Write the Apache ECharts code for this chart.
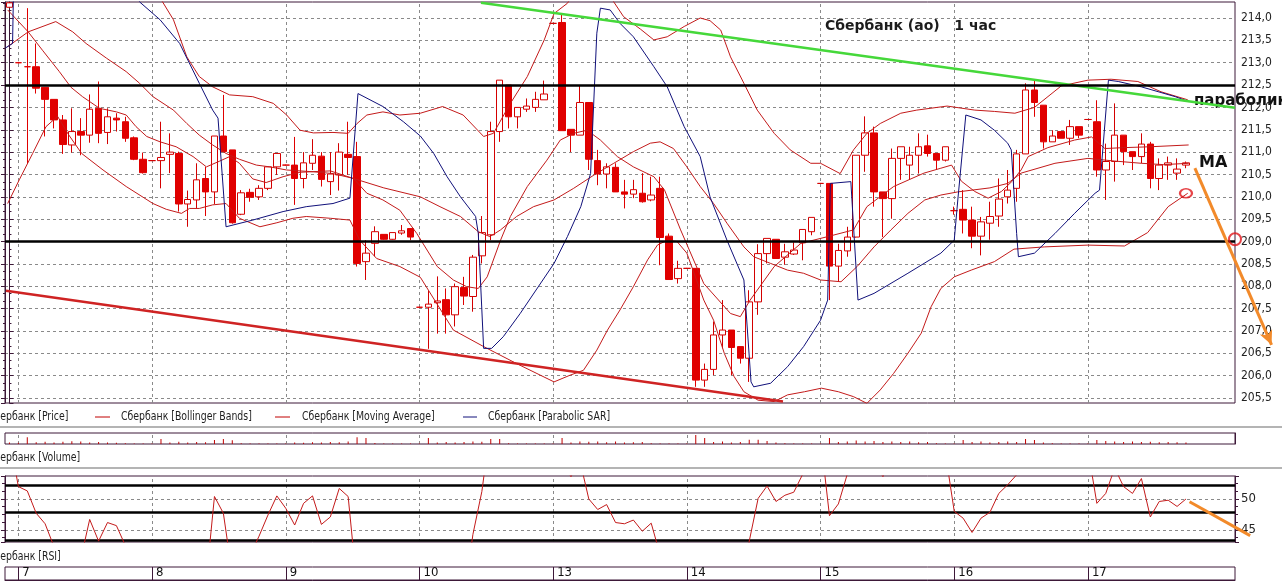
<!DOCTYPE html>
<html><head><meta charset="utf-8">
<script src="https://cdn.jsdelivr.net/npm/echarts@6/dist/echarts.min.js"></script>
<style>html,body{margin:0;padding:0;background:#fff;overflow:hidden}#c{width:1282px;height:583px}</style>
</head><body><div id="c"></div>
<script>
// ---------- data ----------
const slotCount = 138;
const dayStarts = [1,16,31,46,61,76,91,106,121];
const dayLabels = ['7','8','9','10','13','14','15','16','17'];

const opens = [214.24,213.0,212.91,212.91,212.45,212.18,211.72,211.16,211.46,211.38,
 211.98,211.44,211.76,211.68,211.32,210.84,210.81,210.81,210.95,210.97,
 209.84,209.93,210.41,210.11,211.36,211.05,209.61,210.1,210.0,210.19,
 210.67,210.71,210.71,210.41,210.75,210.91,210.34,210.49,210.95,210.9,
 208.55,208.96,209.16,209.05,209.19,209.29,207.53,207.53,207.63,207.7,
 207.36,207.97,207.77,208.68,209.15,211.46,212.5,211.79,211.96,212.0,
 212.17,213.88,213.9,211.51,211.38,212.11,210.81,210.51,210.66,210.11,
 210.06,210.08,209.93,210.19,209.12,208.17,208.4,208.4,205.9,206.14,
 206.91,207.02,206.65,206.39,207.65,208.73,209.05,208.65,208.72,208.97,
 209.22,210.3,210.3,208.45,208.79,209.1,210.93,211.43,210.11,209.96,
 210.86,210.71,210.93,211.14,210.97,210.82,209.69,209.72,209.48,209.12,
 209.41,209.57,210.0,210.19,210.96,212.39,212.05,211.23,211.46,211.31,
 211.57,211.73,211.68,210.6,210.79,211.38,211.01,210.9,211.18,210.41,
 210.71,210.53,210.71];
const closes = [214.34,213.0,212.91,212.43,212.18,211.72,211.17,211.46,211.38,211.96,
 211.42,211.79,211.72,211.31,210.84,210.54,210.81,210.88,211.0,209.84,
 209.94,210.38,210.11,211.36,211.01,209.42,210.09,209.99,210.19,210.67,
 210.97,210.71,210.41,210.76,210.93,210.39,210.51,211.0,210.88,208.51,
 208.74,209.22,209.05,209.2,209.24,209.1,207.53,207.6,207.67,207.36,
 207.99,207.78,208.65,209.2,211.46,212.61,211.79,212.0,212.03,212.18,
 212.3,213.88,211.48,211.38,212.11,210.84,210.51,210.67,210.11,210.06,
 210.16,209.89,210.04,209.09,208.15,208.4,208.4,205.9,206.14,206.91,
 207.02,206.63,206.39,207.65,208.73,209.07,208.62,208.77,208.81,209.27,
 209.54,210.3,208.45,208.8,209.1,210.93,211.43,210.11,209.96,210.86,
 211.12,210.93,211.12,210.97,210.82,211.12,209.69,209.48,209.12,209.44,
 209.56,209.95,210.15,210.96,212.39,212.11,211.23,211.36,211.31,211.57,
 211.38,211.73,210.6,210.79,211.38,211.01,210.9,211.18,210.41,210.71,
 210.76,210.62,210.76];
const lows = [214.22,212.98,210.75,212.31,211.35,211.53,210.96,210.99,210.93,211.21,
 211.2,211.18,211.46,211.23,210.82,210.52,210.8,210.19,210.53,209.67,
 209.33,209.74,209.57,209.84,211.01,209.4,209.59,209.89,209.93,210.15,
 210.49,210.7,209.82,210.19,210.6,210.23,210.04,210.14,210.49,208.44,
 208.14,208.67,209.04,209.04,209.15,209.03,207.52,206.6,206.94,206.94,
 207.1,207.58,207.43,208.51,209.03,211.23,211.53,211.53,211.9,211.9,
 212.17,213.87,211.48,211.0,211.38,210.6,210.26,210.19,210.11,209.74,
 209.97,209.87,209.9,208.47,208.15,208.06,208.39,205.75,205.75,206.01,
 206.61,206.01,206.27,205.86,207.36,208.51,208.62,208.48,208.7,208.58,
 209.14,210.29,207.69,208.1,208.66,209.09,210.56,209.78,209.1,209.51,
 210.38,210.38,210.52,210.9,210.6,210.79,209.6,209.18,208.85,208.69,
 209.04,209.33,209.85,209.89,210.96,211.79,211.08,211.23,211.31,211.16,
 211.31,211.72,210.45,209.93,210.34,210.71,210.6,210.75,210.19,210.15,
 210.38,210.38,210.64];
const highs = [214.36,213.02,214.22,213.43,212.45,212.18,211.83,211.98,211.76,212.29,
 212.58,211.98,211.87,211.79,211.35,210.99,210.82,211.68,211.42,211.01,
 210.14,210.75,210.67,211.36,212.28,211.05,210.15,210.18,210.26,210.67,
 210.97,210.72,211.34,211.0,211.29,211.0,211.0,211.2,211.68,211.23,
 209.03,209.34,209.16,209.2,209.37,209.29,207.54,207.9,208.22,207.95,
 208.06,208.21,208.7,209.57,211.68,212.61,212.5,212.0,212.2,212.35,
 212.6,213.89,214.1,211.51,212.5,212.11,211.05,210.75,210.75,210.38,
 210.38,210.53,210.45,210.45,209.18,208.57,208.41,208.4,206.27,207.21,
 207.69,207.02,206.65,207.91,208.94,209.07,209.05,208.95,208.98,209.27,
 209.54,210.31,210.3,208.95,209.33,210.93,211.8,211.57,210.11,211.08,
 211.12,211.12,211.42,211.39,210.97,211.12,209.78,210.15,209.78,209.55,
 209.89,210.41,210.6,211.05,212.54,212.61,212.05,211.49,211.46,211.72,
 211.57,211.74,212.16,211.19,212.09,211.38,211.01,211.42,211.23,210.86,
 210.9,210.86,210.79];

const volumes = [1500,1200,6700,1800,2200,1500,2200,2800,2500,1500,
 2000,1500,1200,800,600,500,500,5000,1500,2200,
 1500,2000,1800,4000,5000,3800,800,600,500,500,
 500,500,1500,1200,1800,1500,2000,1800,2500,6700,
 6000,900,600,500,500,500,500,6000,1500,2000,
 1500,2000,2500,2200,5000,5000,800,600,500,500,
 500,500,6000,1500,2500,2200,2500,1800,2500,1500,
 1800,2000,800,600,500,500,500,9000,6000,2000,
 2500,1500,2000,4300,4300,3000,1500,800,600,500,
 500,500,6000,2000,2500,3500,2500,3000,2000,2500,
 2000,2500,1800,2000,800,600,500,4000,2000,2500,
 1500,2000,2500,2000,5000,4000,1500,800,600,500,
 500,500,4000,3000,2500,2000,2500,2000,2200,1800,
 2000,1800,1566];

const rsi = [60,52.0,51.3,47.7,46.0,42.3,39,38,40.3,46.7,
 43.2,46.2,45.7,42.5,39,37,36,38,39,35,
 36,37,35.7,50.4,47.7,37.8,39,40.9,44.0,47.4,
 50.5,48.5,45.8,49.3,50.5,45.9,47.1,51.7,50.4,35.7,
 37,39,38,39,40,38,33,35,36,34,
 37,34,44.3,51.2,62,68,62,63,63,64,
 65,70,56,53.6,56.2,50.0,48.3,49.1,46.2,46.0,
 46.6,44.8,46.1,41.0,36,37,37,28,31,36,
 37,34,33,43.2,50.1,52.1,49.6,50.6,51.1,54.0,
 57,60,47.3,49.2,54.0,62,64,56,53.6,57,
 59,58,60,58,56,57.5,48.0,46.9,44.6,46.9,
 47.85,50.9,52.3,53.9,64,60,56,57,56,58,
 57,58,49.3,50.9,55.0,52.0,50.9,53.3,47.1,49.6,
 49.8,48.8,50.0];

const bbUpper = [[16.6,214.55],[18.4,213.96],[19.9,213.13],[21.3,212.69],[22.8,212.46],[24.7,212.28],[27.3,212.24],[29.6,212.09],[31.1,211.83],[32.6,211.49],[34.1,211.43],[36.3,211.44],[38.0,211.42],[39.0,211.64],[40.1,211.83],[41.9,211.9],[43.8,211.83],[46.1,211.87],[48.6,212.02],[50.9,211.83],[53.2,211.35],[54.3,211.42],[56.2,212.09],[58.1,212.69],[60.0,213.51],[61.1,214.1],[62.6,214.33],[63.5,214.6],[67.0,214.6],[68.9,214.03],[70.8,213.75],[72.3,213.51],[73.8,213.58],[75.7,213.81],[77.5,214.0],[78.6,213.94],[79.8,213.73],[80.9,213.13],[82.4,212.54],[83.9,211.94],[85.8,211.42],[87.6,211.05],[89.9,210.75],[91.0,210.75],[93.2,210.52],[94.7,211.05],[96.2,211.42],[97.7,211.64],[100.0,211.87],[101.8,211.94],[105.2,212.03],[108.3,211.94],[110.5,211.91],[112.8,211.87],[115.0,212.0],[118.0,212.48],[121.0,212.61],[123.6,212.63],[126.6,212.58],[129.2,212.35],[132.2,212.17]];
const bbMiddle = [[-0.2,213.36],[2.1,213.69],[5.2,213.92],[7.1,213.69],[8.6,213.43],[10.9,213.1],[13.1,212.8],[14.6,212.54],[16.1,212.24],[18.4,211.94],[19.9,211.64],[21.3,211.38],[22.8,211.16],[24.3,210.97],[25.8,210.84],[27.7,210.71],[29.2,210.67],[31.1,210.6],[34.1,210.56],[36.3,210.52],[38.6,210.41],[42.0,210.2],[46.1,210.0],[48.3,209.78],[50.6,209.56],[52.6,209.22],[53.9,209.11],[55.1,209.26],[56.9,209.56],[58.8,209.78],[61.1,209.93],[63.3,210.19],[65.6,210.49],[67.8,210.75],[70.0,211.01],[71.9,211.2],[73.0,211.23],[74.5,211.08],[76.0,210.67],[77.5,210.23],[79.0,209.85],[80.5,209.41],[82.4,208.88],[83.5,208.66],[85.4,208.51],[87.3,208.36],[89.1,208.29],[91.0,208.14],[93.3,208.1],[95.1,208.44],[97.0,208.88],[98.9,209.26],[100.8,209.63],[102.7,209.93],[104.5,210.04],[106.4,210.11],[108.0,210.15],[110.0,210.2],[112.0,210.3],[113.5,210.53],[117.3,210.75],[121.0,210.86],[124.0,210.8],[127.0,210.75],[129.5,210.72],[132.3,210.75]];
const bbLower = [[-0.2,209.85],[1.1,210.38],[2.6,210.97],[4.1,211.57],[5.4,211.8],[6.6,211.4],[8.1,210.97],[10.5,210.6],[13.1,210.23],[16.1,209.85],[17.6,209.72],[19.3,209.63],[20.2,209.74],[21.3,209.74],[22.8,209.82],[24.3,209.85],[25.8,209.52],[28.1,209.33],[30.0,209.42],[31.8,209.52],[33.3,209.56],[36.0,209.52],[38.2,209.48],[39.3,209.03],[41.2,208.62],[43.8,208.44],[46.1,208.2],[49.8,207.02],[53.2,206.65],[56.9,206.27],[61.1,205.86],[62.9,206.01],[64.4,206.12],[65.9,206.57],[67.1,207.02],[68.5,207.47],[70.0,207.99],[71.6,208.59],[72.7,208.92],[73.8,209.03],[74.9,209.0],[76.0,208.74],[77.9,207.69],[79.0,207.24],[80.2,206.5],[81.3,205.98],[82.4,205.64],[84.0,205.45],[85.8,205.42],[87.3,205.57],[89.2,205.64],[91.1,205.72],[93.0,205.64],[94.7,205.53],[96.2,205.38],[97.7,205.68],[99.2,206.05],[100.8,206.5],[102.3,206.95],[103.4,207.54],[104.5,207.95],[106.0,208.21],[107.9,208.36],[110.5,208.55],[112.7,208.83],[116.1,208.88],[121.0,208.92],[125.1,208.9],[127.7,209.2],[130.0,209.78],[132.2,210.08]];
const maLine = [[-0.2,214.18],[2.1,213.69],[3.7,213.28],[5.6,212.8],[6.9,212.45],[8.2,212.24],[10.1,211.98],[12.0,211.9],[13.1,211.83],[14.2,211.57],[15.4,211.35],[16.9,211.23],[18.7,211.12],[20.6,210.9],[22.1,210.67],[23.6,210.8],[24.7,210.9],[25.8,210.75],[27.3,210.4],[28.8,210.32],[30.7,210.45],[32.6,210.55],[36.0,210.58],[38.6,210.41],[40.1,210.08],[41.9,209.93],[43.8,209.7],[45.7,209.18],[48.0,208.44],[49.8,208.14],[51.3,207.99],[52.6,207.95],[53.6,208.21],[55.1,209.03],[56.2,209.56],[58.1,210.23],[60.3,210.82],[61.8,211.27],[63.3,211.42],[64.8,211.49],[66.3,211.27],[68.2,210.9],[70.0,210.67],[72.3,210.45],[73.5,210.15],[75.3,209.26],[77.9,208.06],[80.9,207.39],[82.0,207.32],[83.1,207.69],[85.8,208.44],[88.8,208.96],[91.8,209.11],[94.7,209.26],[96.2,209.78],[99.2,210.23],[102.6,210.53],[104.5,210.64],[105.7,210.71],[106.8,210.35],[108.3,210.12],[109.8,209.97],[111.3,210.12],[112.5,210.35],[113.5,210.6],[114.3,210.9],[116.5,211.1],[119.5,211.27],[121.4,211.34],[122.9,211.08],[125.0,211.1],[128.0,211.12],[132.3,211.16]];
const sarLine = [[-0.45,213.33],[0.35,213.43],[0.45,214.6],[14.2,214.6],[14.6,214.36],[16.9,213.96],[19.1,213.43],[21.3,212.54],[22.8,211.94],[23.4,211.76],[24.3,209.33],[27.3,209.48],[30.7,209.67],[33.3,209.78],[36.3,209.85],[38.2,209.97],[39.1,212.31],[41.9,212.02],[44.2,211.68],[46.1,211.36],[47.6,210.97],[49.1,210.45],[50.6,210.0],[52.3,209.56],[52.6,209.18],[53.2,206.61],[54.1,206.61],[55.4,206.87],[57.3,207.39],[61.1,208.51],[62.6,209.11],[64.1,209.78],[65.2,210.52],[65.9,213.66],[66.3,214.22],[67.4,214.18],[68.5,213.88],[70.0,213.58],[72.3,212.91],[73.8,212.46],[75.7,211.57],[77.5,210.9],[78.6,210.0],[80.5,209.03],[82.4,208.14],[83.2,205.86],[83.5,205.75],[85.4,205.83],[87.3,206.2],[89.1,206.65],[91.0,207.24],[91.8,207.69],[92.1,210.3],[94.4,210.34],[95.2,207.69],[97.0,207.84],[100.8,208.29],[104.5,208.74],[106.0,209.03],[106.4,209.93],[107.3,211.83],[109.0,211.72],[110.5,211.49],[112.0,211.2],[112.4,211.05],[113.0,209.18],[113.2,208.66],[115.0,208.74],[117.3,209.18],[119.5,209.63],[121.8,210.08],[122.3,210.15],[123.3,212.61],[124.4,212.58],[127.0,212.46],[130.8,212.24],[132.3,212.13]];

const priceLevels = [212.5, 209.0];
const rsiLevels = [52.26, 47.9, 43.4];
const greenTrend = [[52.9,214.34],[137.5,211.99]];
const redTrend = [[-0.39,207.90],[86.79,205.42]];
const priceArrow = [[133.0,210.64],[141.6,206.69]];
const rsiArrow = [[132.4,49.56],[139.2,44.08]];
const markedPoints = [[132.0,210.08],[137.5,209.05]];
const priceRange = [205.388, 214.358];
const rsiRange = [43.06, 53.71];
const volumeRange = [0, 11000];

// ---------- chart ----------
const FRAME = '#3d1838';
const RED = '#e00000';
const IND = '#c31a1a';
const NARROW = '"Liberation Sans Narrow","DejaVu Sans Condensed","Arial Narrow",sans-serif';
const GRID_DASH = {color:'#8a8a8a', type:[3,3], width:1};
const slots = Array.from({length: slotCount}, (_, i) => 'h' + i);
const isDayStart = (idx) => dayStarts.indexOf(idx) >= 0;
const dayLines = dayStarts.map(d => ({xAxis: d, lineStyle: GRID_DASH, label:{show:false}}));
const fmtPrice = v => v.toFixed(1).replace('.', ',');

const PLOT_LEFT = 5, PLOT_WIDTH = 1230;
const overlaySlots = 150;                       // wider overlay so annotations may run past the axis
const OVERLAY_WIDTH = PLOT_WIDTH * overlaySlots / slotCount;

const gridBase = {left:PLOT_LEFT, width:PLOT_WIDTH, show:true, borderColor:FRAME, borderWidth:1, backgroundColor:'#fff', containLabel:false, outerBoundsMode:'none'};
const overlayBase = {left:PLOT_LEFT, width:OVERLAY_WIDTH, show:false, containLabel:false, outerBoundsMode:'none'};
const hiddenCat = (g) => ({gridIndex:g, type:'category', data:slots, boundaryGap:true, axisLine:{show:false}, axisTick:{show:false}, axisLabel:{show:false}, splitLine:{show:false}});
const hiddenVal = (g, n) => ({gridIndex:g, type:'value', min:-0.5, max:n-0.5, show:false, splitLine:{show:false}});

const option = {
  animation:false,
  backgroundColor:'#fff',
  textStyle:{fontFamily:NARROW},
  grid:[
    Object.assign({}, gridBase, {top:2, height:401}),
    Object.assign({}, gridBase, {top:433, height:11}),
    Object.assign({}, gridBase, {top:476, height:66}),
    Object.assign({}, gridBase, {top:567, height:13}),
    Object.assign({}, overlayBase, {top:2, height:401}),
    Object.assign({}, overlayBase, {top:476, height:66})
  ],
  xAxis:[
    hiddenCat(0),                 // 0 price candles
    hiddenVal(0, slotCount),      // 1 price indicators
    hiddenCat(1),                 // 2 volume
    hiddenCat(2),                 // 3 rsi
    {gridIndex:3, type:'category', data:slots, boundaryGap:true,
     axisLine:{show:true, lineStyle:{color:FRAME}},
     axisTick:{show:true, interval:(i)=>isDayStart(i), alignWithLabel:true, inside:true, length:13, lineStyle:{color:FRAME, width:1}},
     axisLabel:{show:true, interval:(i)=>isDayStart(i), inside:true, margin:1, align:'left', padding:[0,0,0,4],
       formatter:(v, i)=>{const k = dayStarts.indexOf(i); return k >= 0 ? dayLabels[k] : '';},
       fontFamily:NARROW, fontSize:13, color:'#111'},
     splitLine:{show:false}},
    hiddenVal(4, overlaySlots),   // 5 price annotations
    hiddenVal(5, overlaySlots)    // 6 rsi annotations
  ],
  yAxis:[
    {gridIndex:0, type:'value', position:'right', min:priceRange[0], max:priceRange[1], splitNumber:18,
     axisLine:{show:true, lineStyle:{color:FRAME}},
     axisTick:{show:true, length:4, lineStyle:{color:FRAME}},
     minorTick:{show:true, splitNumber:3, length:2, lineStyle:{color:FRAME}},
     axisLabel:{show:true, showMinLabel:false, showMaxLabel:false, formatter:fmtPrice, margin:6, fontFamily:NARROW, fontSize:12, color:'#222'},
     splitLine:{show:true, showMinLine:false, showMaxLine:false, lineStyle:GRID_DASH}},
    {gridIndex:0, type:'value', position:'left', min:priceRange[0], max:priceRange[1], splitNumber:18,
     axisLine:{show:true, lineStyle:{color:FRAME}},
     axisTick:{show:true, length:4, lineStyle:{color:FRAME}},
     minorTick:{show:true, splitNumber:3, length:2, lineStyle:{color:FRAME}},
     axisLabel:{show:false}, splitLine:{show:false}},
    {gridIndex:1, type:'value', position:'right', min:volumeRange[0], max:volumeRange[1],
     axisLine:{show:true, lineStyle:{color:FRAME}}, axisTick:{show:false}, axisLabel:{show:false}, splitLine:{show:false}},
    {gridIndex:2, type:'value', position:'right', min:rsiRange[0], max:rsiRange[1], splitNumber:2,
     axisLine:{show:true, lineStyle:{color:FRAME}},
     axisTick:{show:true, length:4, lineStyle:{color:FRAME}},
     minorTick:{show:true, splitNumber:4, length:3, lineStyle:{color:FRAME}},
     axisLabel:{show:true, showMinLabel:false, showMaxLabel:false, formatter:(v)=>String(v), margin:6, fontFamily:NARROW, fontSize:13, color:'#222'},
     splitLine:{show:true, showMinLine:false, showMaxLine:false, lineStyle:GRID_DASH}},
    {gridIndex:2, type:'value', position:'left', min:rsiRange[0], max:rsiRange[1], splitNumber:2,
     axisLine:{show:true, lineStyle:{color:FRAME}},
     axisTick:{show:true, length:4, lineStyle:{color:FRAME}},
     minorTick:{show:true, splitNumber:4, length:3, lineStyle:{color:FRAME}},
     axisLabel:{show:false}, splitLine:{show:false}},
    {gridIndex:3, type:'value', min:0, max:1, show:false, splitLine:{show:false}},
    {gridIndex:4, type:'value', min:priceRange[0], max:priceRange[1], show:false, splitLine:{show:false}},
    {gridIndex:5, type:'value', min:rsiRange[0], max:rsiRange[1], show:false, splitLine:{show:false}}
  ],
  series:[
    {type:'candlestick', name:'Сбербанк [Price]', xAxisIndex:0, yAxisIndex:0, z:2,
     data: opens.map((o, i) => [o, closes[i], lows[i], highs[i]]),
     barWidth:7,
     itemStyle:{color:'#ffffff', color0:RED, borderColor:'#d40000', borderColor0:RED, borderWidth:1},
     emphasis:{disabled:true}, silent:true,
     markLine:{silent:true, symbol:'none', animation:false,
       data:[
         ...priceLevels.map(v => ({yAxis:v, lineStyle:{color:'#000', width:2.5, type:'solid'}, label:{show:false}})),
         {yAxis:closes[closes.length-1], lineStyle:{opacity:0, width:0},
          label:{show:true, position:'end', distance:3, formatter:(p)=>p.value.toFixed(2).replace('.', ','),
                 color:'#c00000', fontFamily:NARROW, fontSize:12, borderColor:'#c00000', borderWidth:1,
                 backgroundColor:'#fff', padding:[1,2,0,2]}}
       ]}},
    {type:'line', name:'Сбербанк [Bollinger Bands]', xAxisIndex:1, yAxisIndex:0, data:bbUpper, symbol:'none', clip:true, z:3, silent:true,
     lineStyle:{color:IND, width:1}},
    {type:'line', name:'Сбербанк [Bollinger Bands] mid', xAxisIndex:1, yAxisIndex:0, data:bbMiddle, symbol:'none', clip:true, z:3, silent:true,
     lineStyle:{color:IND, width:1},
     markLine:{silent:true, symbol:'none', z:1, label:{show:false}, data:dayLines}},
    {type:'line', name:'Сбербанк [Bollinger Bands] low', xAxisIndex:1, yAxisIndex:0, data:bbLower, symbol:'none', clip:true, z:3, silent:true,
     lineStyle:{color:IND, width:1}},
    {type:'line', name:'Сбербанк [Moving Average]', xAxisIndex:1, yAxisIndex:0, data:maLine, symbol:'none', clip:true, z:3, silent:true,
     lineStyle:{color:IND, width:1}},
    {type:'line', name:'Сбербанк [Parabolic SAR]', xAxisIndex:1, yAxisIndex:0, data:sarLine, symbol:'none', clip:true, z:3, silent:true,
     lineStyle:{color:'#10107a', width:1}},
    {type:'line', name:'green trend', xAxisIndex:5, yAxisIndex:6, data:greenTrend, symbol:'none', clip:false, z:4, silent:true,
     lineStyle:{color:'#45d83a', width:2.5}},
    {type:'line', name:'red trend', xAxisIndex:5, yAxisIndex:6, data:redTrend, symbol:'none', clip:false, z:4, silent:true,
     lineStyle:{color:'#cf2323', width:2.5}},
    {type:'line', id:'priceArrow', name:'arrow', xAxisIndex:5, yAxisIndex:6, data:priceArrow, symbol:'none', clip:false, z:6, silent:true,
     lineStyle:{color:'#f28a2a', width:3}, itemStyle:{color:'#f28a2a'}},
    {type:'scatter', name:'marks', xAxisIndex:5, yAxisIndex:6, clip:false, z:6, silent:true,
     data: markedPoints.map((p, k) => ({value:p, symbolSize: k === 0 ? [12,9] : [12,12]})),
     symbol:'circle',
     itemStyle:{color:'rgba(255,255,255,0)', borderColor:'#e0151a', borderWidth:2}},
    {type:'bar', name:'Сбербанк [Volume]', xAxisIndex:2, yAxisIndex:2, data:volumes, barWidth:1, z:2, silent:true,
     itemStyle:{color:'#c00000'},
     markLine:{silent:true, symbol:'none', z:1,
       data:[
         ...dayLines,
         {yAxis:volumes[volumes.length-1], lineStyle:{opacity:0, width:0},
          label:{show:true, position:'end', distance:5, formatter:(p)=>String(Math.round(p.value)).replace(/\B(?=(\d{3})+(?!\d))/g, ' '),
                 color:'#c00000', fontFamily:NARROW, fontSize:12, borderColor:'#7a1010', borderWidth:1,
                 backgroundColor:'#fff', padding:[1,2,0,2]}}
       ]}},
    {type:'line', name:'Сбербанк [RSI]', xAxisIndex:3, yAxisIndex:3, data:rsi, symbol:'none', clip:true, z:3, silent:true,
     lineStyle:{color:IND, width:1},
     markLine:{silent:true, symbol:'none', z:1, label:{show:false},
       data:[...dayLines, ...rsiLevels.map(v => ({yAxis:v, lineStyle:{color:'#000', width:2.5, type:'solid'}, label:{show:false}}))]}},
    {type:'line', name:'rsi arrow', xAxisIndex:6, yAxisIndex:7, data:rsiArrow, symbol:'none', clip:false, z:6, silent:true,
     lineStyle:{color:'#f28a2a', width:3}}
  ],
  graphic:{elements:[
    {type:'text', x:825, y:26, silent:true, style:{text:'Сбербанк (ао)   1 час', font:'bold 14px "DejaVu Sans", sans-serif', fill:'#1c1c1c', verticalAlign:'middle', textVerticalAlign:'middle'}},
    {type:'text', x:1194, y:101, silent:true, style:{text:'параболик', font:'bold 15px "DejaVu Sans", sans-serif', fill:'#111', verticalAlign:'middle', textVerticalAlign:'middle'}},
    {type:'text', x:1199, y:163, silent:true, style:{text:'MA', font:'bold 16px "DejaVu Sans", sans-serif', fill:'#111', verticalAlign:'middle', textVerticalAlign:'middle'}},
    {type:'text', x:-12, y:417, scaleX:0.8, silent:true, style:{text:'Сбербанк [Price]', font:'13px ' + NARROW, fill:'#1e1e1e', verticalAlign:'middle', textVerticalAlign:'middle'}},
    {type:'line', silent:true, shape:{x1:95, y1:417, x2:110, y2:417}, style:{stroke:'#c00000', lineWidth:1}},
    {type:'text', x:121, y:417, scaleX:0.8, silent:true, style:{text:'Сбербанк [Bollinger Bands]', font:'13px ' + NARROW, fill:'#1e1e1e', verticalAlign:'middle', textVerticalAlign:'middle'}},
    {type:'line', silent:true, shape:{x1:275, y1:417, x2:290, y2:417}, style:{stroke:'#c00000', lineWidth:1}},
    {type:'text', x:302, y:417, scaleX:0.8, silent:true, style:{text:'Сбербанк [Moving Average]', font:'13px ' + NARROW, fill:'#1e1e1e', verticalAlign:'middle', textVerticalAlign:'middle'}},
    {type:'line', silent:true, shape:{x1:463, y1:417, x2:477, y2:417}, style:{stroke:'#10107a', lineWidth:1}},
    {type:'text', x:488, y:417, scaleX:0.8, silent:true, style:{text:'Сбербанк [Parabolic SAR]', font:'13px ' + NARROW, fill:'#1e1e1e', verticalAlign:'middle', textVerticalAlign:'middle'}},
    {type:'line', silent:true, shape:{x1:0, y1:427, x2:1282, y2:427}, style:{stroke:'#b4b4b4', lineWidth:2}},
    {type:'text', x:-12, y:458, scaleX:0.8, silent:true, style:{text:'Сбербанк [Volume]', font:'13px ' + NARROW, fill:'#1e1e1e', verticalAlign:'middle', textVerticalAlign:'middle'}},
    {type:'line', silent:true, shape:{x1:0, y1:468, x2:1282, y2:468}, style:{stroke:'#b4b4b4', lineWidth:2}},
    {type:'text', x:-12, y:557, scaleX:0.8, silent:true, style:{text:'Сбербанк [RSI]', font:'13px ' + NARROW, fill:'#1e1e1e', verticalAlign:'middle', textVerticalAlign:'middle'}}
  ]}
};

const chart = echarts.init(document.getElementById('c'), null, {renderer:'canvas'});
chart.setOption(option);

// orient the arrowhead along the drawn arrow
const arrowIdx = option.series.findIndex(s => s.id === 'priceArrow');
const p0 = chart.convertToPixel({seriesIndex: arrowIdx}, priceArrow[0]);
const p1 = chart.convertToPixel({seriesIndex: arrowIdx}, priceArrow[1]);
if (p0 && p1) {
  const ang = Math.atan2(-(p1[1] - p0[1]), p1[0] - p0[0]) * 180 / Math.PI;
  chart.setOption({series:[{id:'priceArrow', showSymbol:true,
    data:[{value:priceArrow[0], symbol:'none'},
          {value:priceArrow[1], symbol:'arrow', symbolSize:[10,14], symbolRotate: ang - 90}]}]});
}
</script>
</body></html>
